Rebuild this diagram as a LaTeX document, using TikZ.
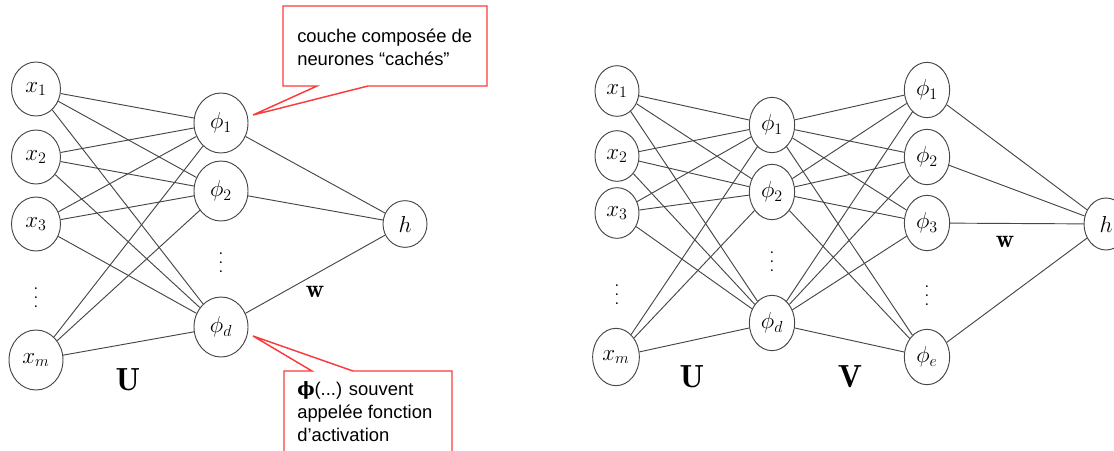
\documentclass[tikz,border=0pt]{standalone}
\usepackage{amsmath}
\usepackage{fontspec}
\setsansfont{Liberation Sans}
\newfontfamily\phifont{DejaVu Serif}
\usetikzlibrary{shapes.geometric}
\definecolor{edgegray}{RGB}{70,70,70}
\definecolor{notered}{RGB}{250,60,60}
\newcommand{\tdots}{.\kern2.6pt.\kern2.6pt.}

\begin{document}
\begin{tikzpicture}[
		x=0.75pt, y=-0.75pt,
		nl/.style = {ellipse, draw=edgegray, fill=white, line width=0.7pt, inner sep=0pt, minimum width=36.75pt, minimum height=40.5pt, font=\fontsize{18.5}{22}\selectfont},
		hl/.style = {nl, minimum width=40.5pt, minimum height=45pt},
		nr/.style = {nl, minimum width=33pt, minimum height=38pt, font=\fontsize{16.5}{19}\selectfont},
		hr/.style = {nr, minimum width=34pt, minimum height=41.5pt},
		lk/.style = {draw=edgegray, line width=0.7pt},
		lb/.style = {font=\fontsize{24}{28}\selectfont},
		dt/.style = {rotate=90, font=\fontsize{17}{20}\selectfont, inner sep=0pt},
		co/.style = {draw=notered, fill=white, line width=1.1pt},
		note/.style = {align=left, inner sep=0pt, font=\sffamily\fontsize{13.8}{17.25}\selectfont}
		]
		\useasboundingbox (0,0) rectangle (1114,450);
		
		%Left network
		\node[nl]	(lx1)	at	(36, 89)	{$x_1$};
		\node[nl]	(lx2)	at	(36, 157)	{$x_2$};
		\node[nl]	(lx3)	at	(36, 224)	{$x_3$};
		\node[dt]	(lvx)	at	(36, 298)	{\tdots};
		\node[hl]	(lxm)	at	(36, 360)	{$x_m$};
		\node[hl]	(lp1)	at	(221, 123)	{$\phi_1$};
		\node[hl]	(lp2)	at	(221, 191)	{$\phi_2$};
		\node[dt]	(lvp)	at	(221, 263)	{\tdots};
		\node[hl]	(lpd)	at	(221, 327)	{$\phi_d$};
		\node[nl, minimum width=33pt, minimum height=35pt]	(lh)	at	(405, 224)	{$h$};
		\node[lb]	(lU)	at	(128, 380)	{$\mathbf{U}$};
		\node[inner sep=0pt, font=\fontsize{19}{22}\selectfont]	(lw)	at	(315, 292)	{$\mathbf{w}$};
		
		%Left lines
		\draw[lk]	(lx1) -- (lp1)	(lx1) -- (lp2)	(lx1) -- (lpd);
		\draw[lk]	(lx2) -- (lp1)	(lx2) -- (lp2)	(lx2) -- (lpd);
		\draw[lk]	(lx3) -- (lp1)	(lx3) -- (lp2)	(lx3) -- (lpd);
		\draw[lk]	(lxm) -- (lp1)	(lxm) -- (lp2)	(lxm) -- (lpd);
		\draw[lk]	(lp1) -- (lh)	(lp2) -- (lh)	(lpd) -- (lh);
		
		%Callouts
		\filldraw[co]	(283, 6) -- (487, 6) -- (487, 86) -- (368, 86) -- (253, 115) -- (317, 86) -- (283, 86) -- cycle;
		\node[note, anchor=north west]	(c1)	at	(297, 29)	{couche composée de\\neurones “cachés”};
		\draw[co]	(284, 456) -- (284, 371) -- (312, 371) -- (253, 336) -- (353, 371) -- (452, 371) -- (452, 456);
		\node[note, anchor=north west]	(c2)	at	(297, 381)	{{\phifont\bfseries ϕ}(...) souvent\\appelée fonction\\d’activation};
		
		%Right network
		\node[nr]	(rx1)	at	(617, 91)	{$x_1$};
		\node[nr]	(rx2)	at	(617, 156)	{$x_2$};
		\node[nr]	(rx3)	at	(617, 213)	{$x_3$};
		\node[dt]	(rvx)	at	(617, 295)	{\tdots};
		\node[nr, minimum width=35pt, minimum height=43pt]	(rxm)	at	(616, 357)	{$x_m$};
		\node[hr]	(rp1)	at	(772, 125)	{$\phi_1$};
		\node[hr]	(rp2)	at	(772, 192)	{$\phi_2$};
		\node[dt]	(rvp)	at	(772, 262)	{\tdots};
		\node[hr]	(rpd)	at	(772, 323)	{$\phi_d$};
		\node[hr]	(rq1)	at	(927, 90)	{$\phi_1$};
		\node[hr]	(rq2)	at	(927, 157)	{$\phi_2$};
		\node[hr]	(rq3)	at	(927, 223)	{$\phi_3$};
		\node[dt]	(rvq)	at	(927, 296)	{\tdots};
		\node[hr]	(rqe)	at	(927, 357)	{$\phi_e$};
		\node[nr, minimum width=33pt, minimum height=39pt]	(rh)	at	(1106, 224)	{$h$};
		\node[lb]	(rU)	at	(692, 377)	{$\mathbf{U}$};
		\node[lb]	(rV)	at	(850, 377)	{$\mathbf{V}$};
		\node[inner sep=0pt, font=\fontsize{19}{22}\selectfont]	(rw)	at	(1005, 242)	{$\mathbf{w}$};
		
		%Right lines
		\draw[lk]	(rx1) -- (rp1)	(rx1) -- (rp2)	(rx1) -- (rpd);
		\draw[lk]	(rx2) -- (rp1)	(rx2) -- (rp2)	(rx2) -- (rpd);
		\draw[lk]	(rx3) -- (rp1)	(rx3) -- (rp2)	(rx3) -- (rpd);
		\draw[lk]	(rxm) -- (rp1)	(rxm) -- (rp2)	(rxm) -- (rpd);
		\draw[lk]	(rp1) -- (rq1)	(rp1) -- (rq2)	(rp1) -- (rq3)	(rp1) -- (rqe);
		\draw[lk]	(rp2) -- (rq1)	(rp2) -- (rq2)	(rp2) -- (rq3)	(rp2) -- (rqe);
		\draw[lk]	(rpd) -- (rq1)	(rpd) -- (rq2)	(rpd) -- (rq3)	(rpd) -- (rqe);
		\draw[lk]	(rq1) -- (rh)	(rq2) -- (rh)	(rq3) -- (rh)	(rqe) -- (rh);
	\end{tikzpicture}
\end{document}
